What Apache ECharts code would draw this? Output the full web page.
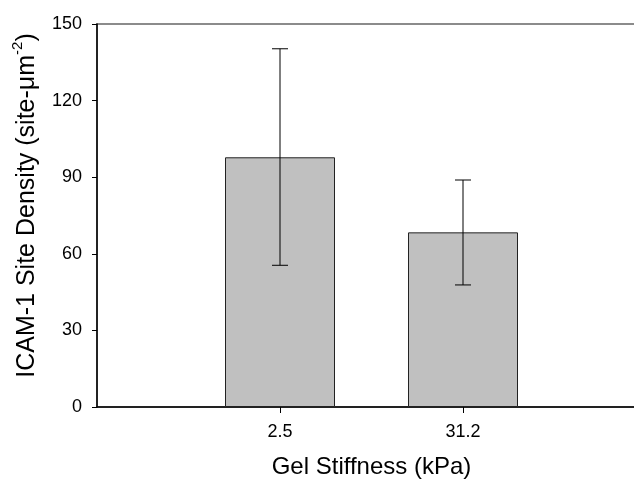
<!DOCTYPE html>
<html>
<head>
  <meta charset="utf-8">
  <title>ICAM-1 site density</title>
  <script src="https://cdn.jsdelivr.net/npm/echarts@6/dist/echarts.min.js"></script>
  <style>
    html, body { margin: 0; padding: 0; background: #fff; }
    #main { width: 634px; height: 480px; }
  </style>
</head>
<body>
<div id="main"></div>
<script>
// data
var stiffness = ['', '2.5', '31.2', ''];
var density = [null, 97.8, 68.4, null];
var errLow = [null, 55.5, 47.8, null];
var errHigh = [null, 140.3, 88.9, null];
var yTicks = [0, 30, 60, 90, 120, 150];

var errData = [];
for (var i = 0; i < stiffness.length; i++) {
  if (density[i] !== null) errData.push([i, errLow[i], errHigh[i]]);
}

var font = '"Liberation Sans", Arial, sans-serif';
var myChart = echarts.init(document.getElementById('main'));

var option = {
  animation: false,
  backgroundColor: '#fff',
  grid: {
    left: 97, top: 24, width: 549, height: 383,
    outerBoundsMode: 'none',
    containLabel: false,
    show: true, borderColor: '#666', borderWidth: 1.5, backgroundColor: 'transparent'
  },
  xAxis: {
    type: 'category',
    data: stiffness,
    boundaryGap: false,
    name: 'Gel Stiffness (kPa)',
    nameLocation: 'middle',
    nameGap: 48,
    nameTextStyle: { fontFamily: font, fontSize: 24, color: '#000' },
    axisLine: { lineStyle: { color: '#000', width: 1.5 } },
    axisTick: {
      length: 6, lineStyle: { color: '#000' },
      interval: function (idx, val) { return val !== ''; }
    },
    axisLabel: { interval: 0, margin: 16, fontFamily: font, fontSize: 18, color: '#000' },
    splitLine: { show: false }
  },
  yAxis: {
    type: 'value',
    min: yTicks[0],
    max: yTicks[yTicks.length - 1],
    interval: 30,
    name: '{a|ICAM-1 Site Density (site-μm}{s|-2}{a|)}',
    nameLocation: 'middle',
    nameGap: 57,
    nameTextStyle: {
      padding: [0, 0, 0, 20],
      rich: {
        a: { fontFamily: font, fontSize: 25, color: '#000', lineHeight: 30, verticalAlign: 'bottom' },
        s: { fontFamily: font, fontSize: 15, color: '#000', lineHeight: 30, verticalAlign: 'top' }
      }
    },
    axisLine: { show: true, lineStyle: { color: '#000', width: 1.5 } },
    axisTick: { show: true, length: 5, lineStyle: { color: '#000' } },
    axisLabel: { margin: 15, fontFamily: font, fontSize: 18, color: '#000' },
    splitLine: { show: false }
  },
  series: [
    {
      type: 'bar',
      data: density,
      barWidth: 110,
      itemStyle: { color: '#c0c0c0', borderColor: '#222', borderWidth: 1 }
    },
    {
      type: 'custom',
      data: errData,
      z: 10,
      renderItem: function (params, api) {
        var lo = api.coord([api.value(0), api.value(1)]);
        var hi = api.coord([api.value(0), api.value(2)]);
        var w = 8;
        var st = { stroke: '#000', lineWidth: 1 };
        return {
          type: 'group',
          children: [
            { type: 'line', shape: { x1: hi[0], y1: hi[1], x2: lo[0], y2: lo[1] }, style: st },
            { type: 'line', shape: { x1: hi[0] - w, y1: hi[1], x2: hi[0] + w, y2: hi[1] }, style: st },
            { type: 'line', shape: { x1: lo[0] - w, y1: lo[1], x2: lo[0] + w, y2: lo[1] }, style: st }
          ]
        };
      }
    }
  ]
};

myChart.setOption(option);
</script>
</body>
</html>
